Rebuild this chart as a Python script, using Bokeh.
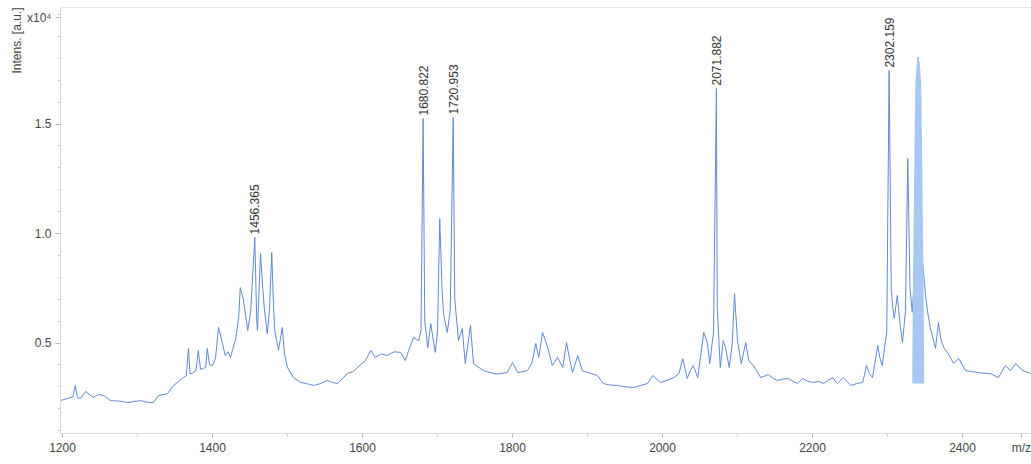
import numpy as np
from bokeh.plotting import figure
from bokeh.models import FixedTicker, Span, Range1d, Title
from bokeh.embed import file_html
from bokeh.resources import INLINE
from bokeh.core.properties import value

# ---- data ----
mz = [1197, 1207, 1214, 1217, 1220, 1224, 1231, 1241, 1248, 1255, 1264, 1275, 1287, 1295,
      1304, 1312, 1321, 1328, 1340, 1348, 1355, 1361, 1365, 1368, 1370, 1373, 1378, 1381,
      1384, 1388, 1391, 1393, 1396, 1400, 1404, 1408, 1413, 1417, 1421, 1424, 1431, 1435,
      1437, 1441, 1444, 1447, 1451, 1456.365, 1459, 1460, 1464, 1467, 1469, 1473, 1476, 1479,
      1481, 1483, 1488, 1493, 1496, 1500, 1508, 1517, 1525, 1535, 1544, 1553, 1560, 1567,
      1574, 1580, 1588, 1597, 1604, 1611, 1617, 1625, 1633, 1642, 1651, 1657, 1662, 1668,
      1675, 1678, 1680.822, 1683, 1687, 1691, 1694, 1697, 1700, 1703, 1706, 1708, 1713, 1717,
      1720.953, 1723, 1728, 1733, 1737, 1744, 1748, 1757, 1764, 1771, 1778, 1784, 1793, 1800,
      1807, 1814, 1820, 1826, 1831, 1835, 1840, 1844, 1848, 1853, 1860, 1867, 1872, 1876,
      1880, 1887, 1893, 1904, 1913, 1921, 1930, 1940, 1950, 1961, 1970, 1980, 1987, 1997,
      2006, 2015, 2022, 2027, 2033, 2037, 2041, 2047, 2055, 2060, 2063, 2068, 2071.882, 2073,
      2077, 2081, 2084, 2089, 2093, 2096, 2100, 2105, 2111, 2115, 2121, 2131, 2141, 2147,
      2153, 2160, 2168, 2174, 2180, 2187, 2194, 2201, 2208, 2215, 2221, 2227, 2233, 2241,
      2246, 2251, 2259, 2267, 2272, 2276, 2280, 2287, 2290, 2293, 2296, 2299, 2302.159, 2305,
      2307, 2309, 2313, 2317, 2320, 2324, 2327, 2330, 2333, 2336, 2341, 2346, 2351, 2354,
      2357, 2364, 2368, 2371, 2375, 2381, 2388, 2395, 2404, 2412, 2420, 2428, 2437, 2448,
      2457, 2464, 2471, 2480, 2491]
intensity = [2370, 2470, 2550, 3060, 2500, 2470, 2790, 2510, 2650, 2600, 2370, 2350, 2280, 2330,
             2370, 2300, 2280, 2600, 2690, 3060, 3250, 3420, 3500, 4750, 3600, 3610, 3750, 4660,
             3800, 3840, 3900, 4750, 4000, 3970, 4300, 5710, 5020, 4430, 4600, 4340, 5210, 6200,
             7530, 7030, 6300, 5570, 6500, 9820, 6000, 5570, 9090, 7500, 6620, 5430, 6500, 9130,
             7000, 5570, 4660, 5710, 4500, 3880, 3420, 3200, 3150, 3060, 3150, 3290, 3200, 3150,
             3400, 3610, 3700, 4000, 4200, 4660, 4340, 4500, 4430, 4600, 4570, 4200, 4700, 5250,
             5110, 5600, 15250, 6000, 4790, 5890, 5200, 4570, 5500, 10680, 7500, 6350, 5480, 6500,
             15300, 7000, 5110, 5660, 4060, 5800, 4060, 3840, 3700, 3650, 3580, 3610, 3650, 4110,
             3650, 3700, 3740, 4100, 4980, 4340, 5480, 5110, 4660, 3970, 4340, 3880, 5020, 4300,
             3650, 4430, 3740, 3610, 3520, 3150, 3080, 3060, 3000, 2970, 3050, 3150, 3520, 3200,
             3300, 3420, 3600, 4290, 3380, 3740, 3970, 3420, 5480, 4980, 4060, 5500, 16620, 6620,
             3880, 5110, 4790, 3880, 5000, 7260, 5110, 4060, 5020, 4200, 3970, 3420, 3560, 3400,
             3290, 3350, 3380, 3250, 3150, 3380, 3250, 3200, 3250, 3150, 3300, 3420, 3150, 3420,
             3250, 3060, 3150, 3200, 3970, 3600, 3420, 4890, 4300, 3970, 4790, 5500, 17440, 7500,
             6620, 6120, 7170, 5800, 5020, 6500, 13420, 7500, 6400, 8000, 18040, 9000, 7080, 6300,
             5710, 4750, 5940, 5200, 4790, 4520, 4060, 4290, 3740, 3700, 3650, 3620, 3610, 3420,
             3970, 3740, 4060, 3740, 3610]

# shaded (integrated) peak
fill_mz = [2333, 2334, 2336, 2337, 2339, 2341, 2343, 2345, 2346, 2348, 2349]
fill_top = [3150, 8000, 14000, 16800, 17800, 18040, 17800, 16800, 14000, 8000, 3150]
fill_base = 3150

# annotated peaks
peak_mz = [1456.365, 1680.822, 1720.953, 2071.882, 2302.159]
peak_int = [9820, 15250, 15300, 16620, 17440]
peak_labels = ["1456.365", "1680.822", "1720.953", "2071.882", "2302.159"]

# axes
x_ticks = [1200, 1400, 1600, 1800, 2000, 2200, 2400]
x_tick_labels = ["1200", "1400", "1600", "1800", "2000", "2200", "2400"]
x_minor = [1300, 1500, 1700, 1900, 2100, 2300]
x_unit_pos = 2478.5
x_unit_label = "m/z"
y_ticks = [5000, 10000, 15000]
y_tick_labels = ["0.5", "1.0", "1.5"]
y_scale_pos = 19850
y_scale_label = "x10\u2074"
y_minor = [1000, 2000, 3000, 4000, 6000, 7000, 8000, 9000, 11000, 12000, 13000, 14000,
           16000, 17000, 18000, 19000, 20000]
y_title = "Intens. [a.u.]"

FONT = "Liberation Sans"

p = figure(width=1031, height=464, x_range=Range1d(1197.33, 2492.0),
           y_range=Range1d(868, 20320), output_backend="svg", toolbar_location=None,
           min_border_left=60, min_border_right=0, min_border_top=7, min_border_bottom=31)
p.xgrid.visible = False
p.ygrid.visible = False
p.outline_line_color = None
p.background_fill_color = "white"
p.border_fill_color = "white"

for ax in (p.xaxis[0], p.yaxis[0]):
    ax.axis_line_color = "#dcdcdc"
    ax.major_tick_line_color = "#b8b8b8"
    ax.minor_tick_line_color = "#d0d0d0"
    ax.major_tick_in = 0
    ax.minor_tick_in = 0
    ax.major_label_text_font = FONT
    ax.major_label_text_font_size = "12px"
    ax.major_label_text_color = "#444444"
    ax.major_label_text_font_style = "normal"

p.xaxis.ticker = FixedTicker(ticks=x_ticks + [x_unit_pos], minor_ticks=x_minor)
p.xaxis.major_label_overrides = dict(zip(x_ticks + [x_unit_pos], x_tick_labels + [x_unit_label]))
p.xaxis.major_tick_out = 4
p.xaxis.minor_tick_out = 3
p.xaxis.major_label_standoff = 3

p.yaxis.ticker = FixedTicker(ticks=y_ticks + [y_scale_pos], minor_ticks=y_minor)
p.yaxis.major_label_overrides = dict(zip(y_ticks + [y_scale_pos], y_tick_labels + [y_scale_label]))
p.yaxis.major_tick_out = 5
p.yaxis.minor_tick_out = 3
p.yaxis.major_label_standoff = 4

p.add_layout(Title(text=y_title, align="right", text_font=FONT, text_font_size="12px",
                   text_font_style="normal", text_color="#444444", standoff=0), "left")

p.add_layout(Span(location=20320, dimension="width", line_color="#d6d6d6", line_width=1))

p.line(mz, intensity, line_color="#5f8ad0", line_width=1)
p.varea(x=fill_mz, y1=fill_base, y2=fill_top, fill_color="#a9c7f0", fill_alpha=1.0)

p.text(x=peak_mz, y=peak_int, text=peak_labels, angle=np.pi / 2, text_align="left",
       text_baseline="middle", y_offset=-3, text_font=value(FONT), text_font_size="12px",
       text_color="#333333")

open("out.html", "w").write(file_html(p, INLINE))
